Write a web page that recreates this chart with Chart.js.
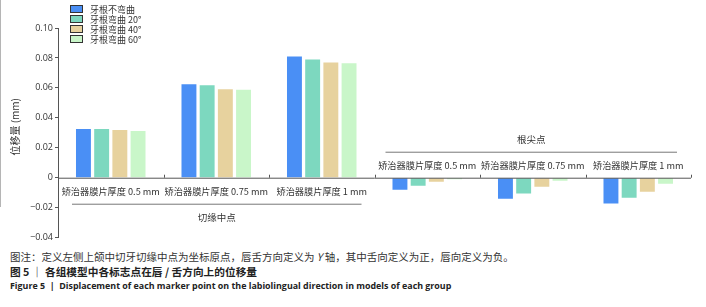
<!DOCTYPE html>
<html>
<head>
<meta charset="utf-8">
<script src="https://cdn.jsdelivr.net/npm/chart.js@4.4.0/dist/chart.umd.min.js"></script>
<style>
  body { margin: 0; background: #fff; width: 706px; height: 307px; overflow: hidden; position: relative; font-family: 'Noto Sans CJK SC', sans-serif; }
  #edge { position: absolute; left: 0; top: 0; width: 1px; height: 207px; background: #b5b5b5; }
  #wrap { position: absolute; left: 0; top: 0; width: 706px; height: 245px; }
  .cap { position: absolute; left: 10px; white-space: nowrap; color: #222; line-height: 1; }
  #note { top: 252px; font-size: 10.5px; color: #333; }
  #title-cn { top: 267px; font-size: 10.7px; font-weight: bold; }
  #title-en { top: 282px; font-size: 8.9px; font-weight: bold; font-family: 'Open Sans', sans-serif; }
</style>
</head>
<body>
<div id="edge"></div>
<div id="wrap"><canvas id="chart"></canvas></div>
<div class="cap" id="note">图注：定义左侧上颌中切牙切缘中点为坐标原点，唇舌方向定义为 <i>Y</i> 轴，其中舌向定义为正，唇向定义为负。</div>
<div class="cap" id="title-cn">图 5 ｜ 各组模型中各标志点在唇 / 舌方向上的位移量</div>
<div class="cap" id="title-en">Figure 5 &nbsp;|&nbsp; Displacement of each marker point on the labiolingual direction in models of each group</div>

<script>
// categories (two marker points x three film thicknesses)
const categories = ['矫治器膜片厚度 0.5 mm', '矫治器膜片厚度 0.75 mm', '矫治器膜片厚度 1 mm',
                    '矫治器膜片厚度 0.5 mm', '矫治器膜片厚度 0.75 mm', '矫治器膜片厚度 1 mm'];
const groupNames = ['切缘中点', '根尖点'];
const seriesNames = ['牙根不弯曲', '牙根弯曲 20°', '牙根弯曲 40°', '牙根弯曲 60°'];
const yTitle = '位移量 (mm)';

// displacement (mm)
const straight = [0.0325, 0.0624, 0.0810, -0.0080, -0.0140, -0.0173];
const bend20   = [0.0325, 0.0618, 0.0790, -0.0053, -0.0106, -0.0133];
const bend40   = [0.0319, 0.0591, 0.0770, -0.0027, -0.0060, -0.0093];
const bend60   = [0.0312, 0.0588, 0.0764, -0.0010, -0.0020, -0.0040];

const yTickLabels = ['-0.04', '-0.02', '0', '0.02', '0.04', '0.06', '0.08', '0.10'];

const colors = ['#4a8ff5', '#7dd8bf', '#e7d29e', '#c9f6c9'];
const cnFont = "'Noto Sans CJK SC', sans-serif";

// draws zero axis, category labels under/over it, group brackets, y title and the legend
const decorPlugin = {
  id: 'decor',
  afterDatasetsDraw(chart) {
    const ctx = chart.ctx;
    const x = chart.scales.x, y = chart.scales.y;
    const area = chart.chartArea;
    const zero = y.getPixelForValue(0);
    const half = (x.getPixelForValue(1) - x.getPixelForValue(0)) / 2;

    ctx.save();
    ctx.strokeStyle = '#555';
    ctx.lineWidth = 1;
    ctx.beginPath();
    ctx.moveTo(area.left, zero + 0.5);
    ctx.lineTo(area.right, zero + 0.5);
    for (let i = 0; i < categories.length; i++) {
      const bx = Math.round(x.getPixelForValue(i) + half) + 0.5;
      ctx.moveTo(bx, zero);
      ctx.lineTo(bx, zero - 3);
    }
    ctx.stroke();

    // category labels
    ctx.fillStyle = '#333';
    ctx.font = '9.2px ' + cnFont;
    ctx.textAlign = 'center';
    ctx.textBaseline = 'middle';
    categories.forEach((c, i) => {
      const cx = x.getPixelForValue(i);
      ctx.fillText(c, cx, i < 3 ? zero + 14 : zero - 12);
    });

    // group brackets
    ctx.strokeStyle = '#777';
    ctx.beginPath();
    const l0 = x.getPixelForValue(0) - half + 14, r0 = x.getPixelForValue(2) + half - 13;
    const l1 = x.getPixelForValue(3) - half + 11, r1 = x.getPixelForValue(5) + half - 14;
    ctx.moveTo(l0, zero + 26.5); ctx.lineTo(r0, zero + 26.5);
    ctx.moveTo(l1, zero - 25.5); ctx.lineTo(r1, zero - 25.5);
    ctx.stroke();
    ctx.font = '9.5px ' + cnFont;
    ctx.fillText(groupNames[0], (l0 + r0) / 2, zero + 40);
    ctx.fillText(groupNames[1], (l1 + r1) / 2, zero - 38);

    // y axis title, a little above the middle of the axis like the original
    ctx.save();
    ctx.translate(15, y.getPixelForValue(0.034));
    ctx.rotate(-Math.PI / 2);
    ctx.font = '10px ' + cnFont;
    ctx.fillText(yTitle, 0, 0);
    ctx.restore();

    // legend
    ctx.textAlign = 'left';
    ctx.font = '9px ' + cnFont;
    seriesNames.forEach((s, i) => {
      const ly = 5 + i * 10;
      ctx.fillStyle = colors[i];
      ctx.fillRect(70, ly, 13, 8);
      ctx.strokeStyle = '#333';
      ctx.strokeRect(70.5, ly + 0.5, 12, 7);
      ctx.fillStyle = '#333';
      ctx.fillText(s, 90, ly + 4.5);
    });
    ctx.restore();
  }
};

new Chart(document.getElementById('chart'), {
  type: 'bar',
  data: {
    labels: categories,
    datasets: [
      { label: seriesNames[0], data: straight, backgroundColor: colors[0] },
      { label: seriesNames[1], data: bend20,   backgroundColor: colors[1] },
      { label: seriesNames[2], data: bend40,   backgroundColor: colors[2] },
      { label: seriesNames[3], data: bend60,   backgroundColor: colors[3] }
    ]
  },
  options: {
    responsive: true,
    maintainAspectRatio: false,
    animation: false,
    layout: { padding: { top: 28, bottom: 6, left: 0, right: 15 } },
    datasets: { bar: { categoryPercentage: 0.69, barPercentage: 0.82 } },
    plugins: { legend: { display: false }, tooltip: { enabled: false } },
    scales: {
      x: { display: false },
      y: {
        min: -0.04,
        max: 0.10,
        afterFit: (scale) => { scale.width = 58; },
        border: { color: '#555' },
        grid: { drawOnChartArea: false, tickLength: 3, color: '#555' },
        ticks: {
          stepSize: 0.02,
          padding: 2,
          color: '#333',
          font: { family: "'Open Sans', sans-serif", size: 9 },
          callback: (v, i) => yTickLabels[i].replace('-', '\u2212')
        }
      }
    }
  },
  plugins: [decorPlugin]
});
</script>
</body>
</html>
